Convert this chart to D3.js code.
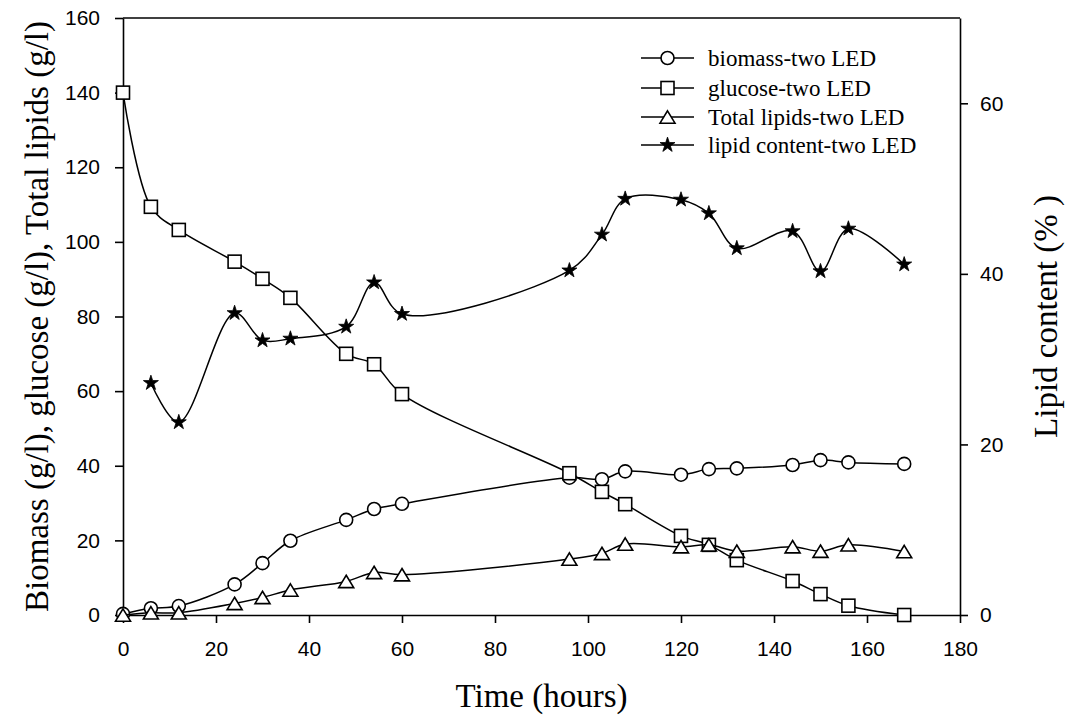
<!DOCTYPE html>
<html>
<head>
<meta charset="utf-8">
<script src="https://cdn.jsdelivr.net/npm/d3@7"></script>
<style>
  html, body { margin: 0; padding: 0; background: #fff; }
  svg { display: block; }
</style>
</head>
<body>
<svg id="chart" width="1068" height="720"></svg>
<script>
// Culture time points (hours)
const times = [0, 6, 12, 24, 30, 36, 48, 54, 60, 96, 103, 108, 120, 126, 132, 144, 150, 156, 168];
// Biomass (g/l)
const biomass = [0.3, 1.8, 2.4, 8.2, 13.9, 19.9, 25.5, 28.4, 29.8, 36.8, 36.4, 38.5, 37.6, 39.1, 39.3, 40.2, 41.5, 40.9, 40.5];
// Residual glucose (g/l)
const glucose = [140, 109.4, 103.2, 94.7, 90.1, 85.0, 70.0, 67.2, 59.2, 38.0, 33.0, 29.7, 21.2, 18.8, 14.7, 9.1, 5.6, 2.5, 0];
// Total lipids (g/l)
const totalLipids = [0, 0.6, 0.6, 3.1, 4.7, 6.7, 9.0, 11.4, 10.8, 15.0, 16.5, 19.0, 18.3, 18.8, 17.1, 18.3, 17.1, 18.8, 17.0];
// Lipid content (%), right axis; no value at 0 h
const lipidContent = [null, 27.2, 22.6, 35.4, 32.2, 32.4, 33.8, 39.0, 35.3, 40.4, 44.6, 48.8, 48.7, 47.1, 43.0, 45.0, 40.3, 45.3, 41.1];

const xTicks = [0, 20, 40, 60, 80, 100, 120, 140, 160, 180];
const yTicks = [0, 20, 40, 60, 80, 100, 120, 140, 160];
const yRightTicks = [0, 20, 40, 60];

const seriesNames = ["biomass-two LED", "glucose-two LED", "Total lipids-two LED", "lipid content-two LED"];

const svg = d3.select("#chart");
const L = 123, R = 960, T = 18, B = 615;

const x = d3.scaleLinear().domain([0, 180]).range([L, R]);
const y = d3.scaleLinear().domain([0, 160]).range([B, T]);
const yR = d3.scaleLinear().domain([0, 70]).range([B, T]);

const sans = "'Liberation Sans', Arial, sans-serif";
const serif = "'Liberation Serif', 'Times New Roman', serif";

// Axes
const gx = svg.append("g").attr("transform", `translate(0,${B})`)
  .call(d3.axisBottom(x).tickValues(xTicks).tickSize(8).tickSizeOuter(0).tickPadding(18).tickFormat(d3.format("d")));
const gy = svg.append("g").attr("transform", `translate(${L},0)`)
  .call(d3.axisLeft(y).tickValues(yTicks).tickSize(8).tickSizeOuter(0).tickPadding(15).tickFormat(d3.format("d")));
const gyR = svg.append("g").attr("transform", `translate(${R},0)`)
  .call(d3.axisRight(yR).tickValues(yRightTicks).tickSize(8).tickSizeOuter(0).tickPadding(12).tickFormat(d3.format("d")));

[gx, gy, gyR].forEach(g => {
  g.selectAll("path.domain").attr("stroke", "#000").attr("stroke-width", 1.6);
  g.selectAll(".tick line").attr("stroke", "#000").attr("stroke-width", 1.6);
  g.selectAll(".tick text").attr("fill", "#000").style("font-family", sans).style("font-size", "21px");
});

// Top frame line
svg.append("line").attr("x1", L).attr("x2", R).attr("y1", T).attr("y2", T)
  .attr("stroke", "#000").attr("stroke-width", 1.6);

// Axis titles
svg.append("text").attr("x", (L + R) / 2).attr("y", 707)
  .attr("text-anchor", "middle").style("font-family", serif).style("font-size", "33px")
  .text("Time (hours)");
svg.append("text").attr("transform", `translate(48,${(T + B) / 2}) rotate(-90)`)
  .attr("text-anchor", "middle").style("font-family", serif).style("font-size", "33px")
  .text("Biomass (g/l), glucose (g/l), Total lipids (g/l)");
svg.append("text").attr("transform", `translate(1057,${(T + B) / 2}) rotate(-90)`)
  .attr("text-anchor", "middle").style("font-family", serif).style("font-size", "33px")
  .text("Lipid content (% )");

// Marker shapes
const starPath = d3.symbol().type(d3.symbolStar).size(70)();
function drawMarker(g, kind, cx, cy) {
  if (kind === "circle") {
    g.append("circle").attr("cx", cx).attr("cy", cy).attr("r", 6.5)
      .attr("fill", "#fff").attr("stroke", "#000").attr("stroke-width", 1.6);
  } else if (kind === "square") {
    g.append("rect").attr("x", cx - 6.5).attr("y", cy - 6.5).attr("width", 13).attr("height", 13)
      .attr("fill", "#fff").attr("stroke", "#000").attr("stroke-width", 1.6);
  } else if (kind === "triangle") {
    const w = 7.5, h = 6.2;
    g.append("path").attr("d", `M${cx},${cy - h}L${cx + w},${cy + h}L${cx - w},${cy + h}Z`)
      .attr("fill", "#fff").attr("stroke", "#000").attr("stroke-width", 1.6);
  } else {
    g.append("path").attr("d", starPath).attr("transform", `translate(${cx},${cy})`)
      .attr("fill", "#000").attr("stroke", "#000").attr("stroke-width", 0.8);
  }
}

const curve = d3.curveCatmullRom.alpha(0.5);
const series = [
  { values: biomass, scale: y, kind: "circle" },
  { values: glucose, scale: y, kind: "square" },
  { values: totalLipids, scale: y, kind: "triangle" },
  { values: lipidContent, scale: yR, kind: "star" }
];

series.forEach(s => {
  const pts = times.map((t, i) => [t, s.values[i]]).filter(p => p[1] !== null);
  const g = svg.append("g");
  const line = d3.line().x(p => x(p[0])).y(p => s.scale(p[1])).curve(curve);
  g.append("path").datum(pts).attr("d", line)
    .attr("fill", "none").attr("stroke", "#000").attr("stroke-width", 1.5);
  pts.forEach(p => drawMarker(g, s.kind, x(p[0]), s.scale(p[1])));
});

// Legend
const legendRows = [58, 88, 117, 145];
const kinds = ["circle", "square", "triangle", "star"];
const lg = svg.append("g");
seriesNames.forEach((name, i) => {
  const cy = legendRows[i];
  lg.append("line").attr("x1", 641).attr("x2", 694).attr("y1", cy).attr("y2", cy)
    .attr("stroke", "#000").attr("stroke-width", 1.5);
  drawMarker(lg, kinds[i], 667.5, cy);
  lg.append("text").attr("x", 708).attr("y", cy).attr("dy", "0.33em")
    .style("font-family", serif).style("font-size", "23px").text(name);
});
</script>
</body>
</html>
